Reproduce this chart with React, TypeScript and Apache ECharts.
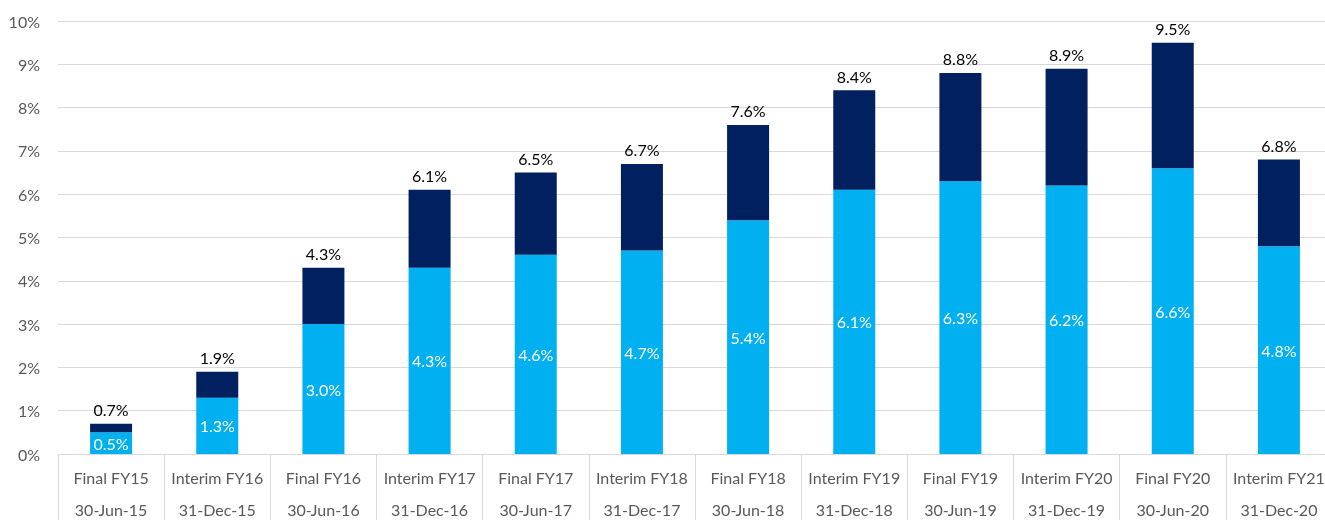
import React, { useEffect, useRef } from "react";
import * as echarts from "echarts";

const periods = ["Final FY15", "Interim FY16", "Final FY16", "Interim FY17", "Final FY17", "Interim FY18", "Final FY18", "Interim FY19", "Final FY19", "Interim FY20", "Final FY20", "Interim FY21"];
const dates = ["30-Jun-15", "31-Dec-15", "30-Jun-16", "31-Dec-16", "30-Jun-17", "31-Dec-17", "30-Jun-18", "31-Dec-18", "30-Jun-19", "31-Dec-19", "30-Jun-20", "31-Dec-20"];
const baseValues = [0.5, 1.3, 3.0, 4.3, 4.6, 4.7, 5.4, 6.1, 6.3, 6.2, 6.6, 4.8];
const totalValues = [0.7, 1.9, 4.3, 6.1, 6.5, 6.7, 7.6, 8.4, 8.8, 8.9, 9.5, 6.8];
const yTicks = [0, 1, 2, 3, 4, 5, 6, 7, 8, 9, 10];

export default function App() {
  const ref = useRef<HTMLDivElement>(null);
  useEffect(() => {
    document.body.style.margin = "0";
    document.documentElement.style.overflow = "hidden";
    document.body.style.overflow = "hidden";
    if (!ref.current) return;
    const chart = echarts.init(ref.current, undefined, { renderer: "svg", width: 1325, height: 520 });
    const categories = periods.map((p, i) => p + "\n" + dates[i]);
    const topValues = totalValues.map((t, i) => Math.round((t - baseValues[i]) * 10) / 10);
    const font = "Lato, 'Open Sans', sans-serif";
    chart.setOption({
      animation: false,
      textStyle: { fontFamily: font },
      grid: { left: 58, right: -7, top: 21, bottom: 66, containLabel: false, outerBoundsMode: "none" },
      xAxis: {
        type: "category",
        data: categories,
        axisLine: { show: true, lineStyle: { color: "#d9d9d9", width: 1 } },
        axisTick: { show: true, interval: 0, length: 70, lineStyle: { color: "#d9d9d9", width: 1 } },
        axisLabel: { interval: 0, color: "#595959", fontSize: 16, fontFamily: font, lineHeight: 32, margin: 7 },
      },
      yAxis: {
        type: "value",
        min: yTicks[0],
        max: yTicks[yTicks.length - 1],
        interval: 1,
        axisLine: { show: false },
        axisTick: { show: false },
        splitLine: { lineStyle: { color: "#d9d9d9", width: 1 } },
        axisLabel: { color: "#595959", fontSize: 16, fontFamily: font, margin: 18, formatter: "{value}%" },
      },
      series: [
        {
          type: "bar", stack: "total", data: baseValues, barWidth: 42,
          itemStyle: { color: "#00B0F0" },
          label: { show: true, position: "inside", color: "#ffffff", fontSize: 16, fontFamily: font, formatter: (p: any) => Number(p.value).toFixed(1) + "%" },
        },
        {
          type: "bar", stack: "total", data: topValues, barWidth: 42,
          itemStyle: { color: "#002060" },
          label: { show: true, position: "top", distance: 6, color: "#000000", fontSize: 16, fontFamily: font, formatter: (p: any) => totalValues[p.dataIndex].toFixed(1) + "%" },
        },
      ],
    });
    return () => chart.dispose();
  }, []);
  return <div ref={ref} style={{ position: "fixed", left: 0, top: 0, width: 1325, height: 520, overflow: "hidden" }} />;
}
